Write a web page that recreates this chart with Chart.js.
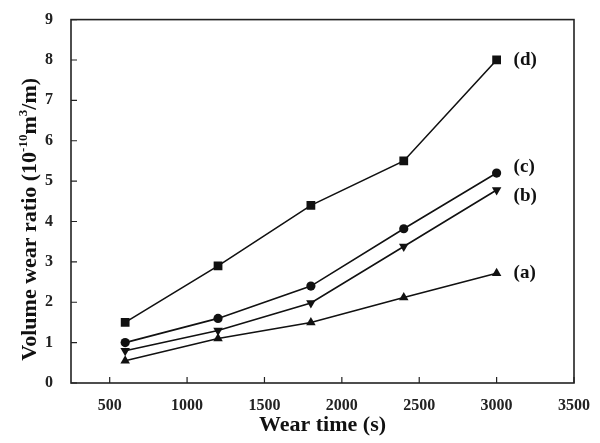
<!DOCTYPE html>
<html>
<head>
<meta charset="utf-8">
<script src="https://cdn.jsdelivr.net/npm/chart.js@4"></script>
<style>
  html, body { margin: 0; padding: 0; background: #fff; }
  #wrap { width: 600px; height: 443px; }
</style>
</head>
<body>
<div id="wrap"><canvas id="wearChart" width="600" height="443"></canvas></div>
<script>
const wearTimes = [600, 1200, 1800, 2400, 3000];
const seriesA = [0.55, 1.1, 1.5, 2.12, 2.72];
const seriesB = [0.8, 1.3, 1.98, 3.38, 4.78];
const seriesC = [1.0, 1.6, 2.4, 3.82, 5.2];
const seriesD = [1.5, 2.9, 4.4, 5.5, 8.0];
const seriesNames = ['(a)', '(b)', '(c)', '(d)'];
const xTicks = [500, 1000, 1500, 2000, 2500, 3000, 3500];
const yTicks = [0, 1, 2, 3, 4, 5, 6, 7, 8, 9];
// y title pieces: [text, superscript?]
const yTitleParts = [['Volume wear ratio (10', false], ['-10', true], ['m', false], ['3', true], ['/m)', false]];

const serif = '"Liberation Serif", "Times New Roman", serif';

function pts(vals) {
    return wearTimes.map((t, i) => ({ x: t, y: vals[i] }));
}

// frame, inward ticks, y title with superscripts and the (a)..(d) tags
const framePlugin = {
    id: 'frame',
    afterDatasetsDraw(chart) {
        const ctx = chart.ctx;
        const a = chart.chartArea;
        const xs = chart.scales.x, ys = chart.scales.y;
        ctx.save();
        ctx.strokeStyle = '#222';
        ctx.lineWidth = 1.6;
        ctx.strokeRect(a.left, a.top, a.right - a.left, a.bottom - a.top);
        ctx.lineWidth = 1.2;
        ctx.beginPath();
        xTicks.forEach(v => {
            const px = xs.getPixelForValue(v);
            ctx.moveTo(px, a.bottom);
            ctx.lineTo(px, a.bottom - 6);
        });
        yTicks.forEach(v => {
            const py = ys.getPixelForValue(v);
            ctx.moveTo(a.left, py);
            ctx.lineTo(a.left + 6, py);
        });
        ctx.stroke();

        ctx.fillStyle = '#111';
        ctx.font = 'bold 19px ' + serif;
        ctx.textBaseline = 'middle';
        ctx.textAlign = 'left';
        chart.data.datasets.forEach((ds, i) => {
            const meta = chart.getDatasetMeta(i);
            const last = meta.data[meta.data.length - 1];
            ctx.fillText(ds.label, last.x + 17, last.y + (ds.tagShift || 0));
        });

        // rotated y title
        const big = 'bold 22px ' + serif, small = 'bold 13px ' + serif;
        let total = 0;
        yTitleParts.forEach(p => { ctx.font = p[1] ? small : big; total += ctx.measureText(p[0]).width; });
        ctx.translate(36, (a.top + a.bottom) / 2 + 18);
        ctx.rotate(-Math.PI / 2);
        ctx.textBaseline = 'alphabetic';
        let cx = -total / 2;
        yTitleParts.forEach(p => {
            ctx.font = p[1] ? small : big;
            ctx.fillText(p[0], cx, p[1] ? -9 : 0);
            cx += ctx.measureText(p[0]).width;
        });
        ctx.restore();
    }
};

const common = {
    borderColor: '#111',
    backgroundColor: '#111',
    borderWidth: 1.6,
    pointRadius: 4.6,
    pointBorderWidth: 0,
    tension: 0
};

new Chart(document.getElementById('wearChart'), {
    type: 'line',
    data: {
        datasets: [
            Object.assign({ label: seriesNames[0], data: pts(seriesA), pointStyle: 'triangle' }, common, { pointRadius: 5.5 }),
            Object.assign({ label: seriesNames[1], data: pts(seriesB), pointStyle: 'triangle', pointRotation: 180, tagShift: 6 }, common, { pointRadius: 5.5 }),
            Object.assign({ label: seriesNames[2], data: pts(seriesC), pointStyle: 'circle', tagShift: -6 }, common),
            Object.assign({ label: seriesNames[3], data: pts(seriesD), pointStyle: 'rect' }, common, { pointRadius: 6.2 })
        ]
    },
    options: {
        responsive: false,
        animation: false,
        layout: { padding: { top: 10, right: 26, left: 18, bottom: 4 } },
        plugins: {
            legend: { display: false },
            tooltip: { enabled: false }
        },
        scales: {
            x: {
                type: 'linear',
                min: 250,
                max: 3500,
                afterBuildTicks(scale) { scale.ticks = xTicks.map(v => ({ value: v })); },
                afterFit(scale) { scale.height = 56; },
                grid: { display: false },
                border: { display: false },
                ticks: {
                    color: '#222',
                    padding: 5,
                    maxRotation: 0,
                    autoSkip: false,
                    callback: v => String(v),
                    font: { family: serif, size: 16, weight: 'bold' }
                },
                title: {
                    display: true,
                    text: 'Wear time (s)',
                    color: '#111',
                    padding: { top: 0, bottom: 0 },
                    font: { family: serif, size: 22, weight: 'bold' }
                }
            },
            y: {
                min: 0,
                max: 9,
                afterBuildTicks(scale) { scale.ticks = yTicks.map(v => ({ value: v })); },
                afterFit(scale) { scale.width = 53; },
                grid: { display: false },
                border: { display: false },
                ticks: {
                    color: '#222',
                    padding: 10,
                    callback: v => String(v),
                    font: { family: serif, size: 16, weight: 'bold' }
                },
                title: { display: false }
            }
        }
    },
    plugins: [framePlugin]
});
</script>
</body>
</html>
